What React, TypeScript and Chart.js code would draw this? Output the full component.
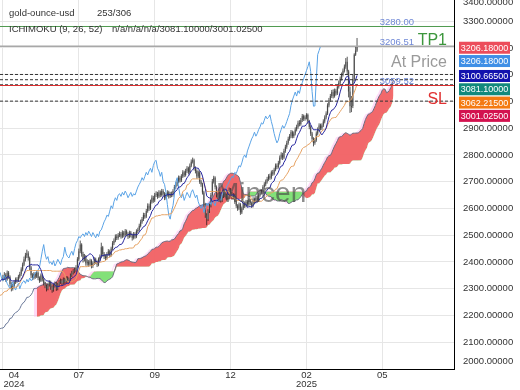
import React, { useEffect, useRef } from "react";
import { Chart, registerables } from "chart.js";
Chart.register(...registerables);

// ---- history bars before the visible window (needed for the Ichimoku look-back) ----
const HIST_CLOSE = [
  2040, 2030, 2045, 2050, 2040, 2060, 2070, 2065, 2080, 2090,
  2100, 2095, 2110, 2120, 2130, 2140, 2150, 2165, 2175, 2160,
  2170, 2185, 2180, 2195, 2210, 2200, 2190, 2205, 2215, 2230,
  2220, 2235, 2250, 2240, 2260, 2270, 2255, 2250, 2265, 2280,
  2290, 2300, 2290, 2310, 2330, 2320, 2310, 2325, 2340, 2360,
  2345, 2330, 2335,
];
const HIST_HIGH = [
  2048, 2046, 2052, 2058, 2056, 2066, 2078, 2076, 2086, 2097,
  2108, 2106, 2116, 2127, 2137, 2147, 2158, 2172, 2184, 2180,
  2177, 2192, 2191, 2201, 2218, 2215, 2206, 2211, 2222, 2237,
  2236, 2242, 2258, 2256, 2267, 2278, 2276, 2262, 2271, 2287,
  2297, 2308, 2306, 2317, 2338, 2336, 2326, 2331, 2347, 2368,
  2366, 2351, 2342,
];
const HIST_LOW = [
  2028, 2022, 2025, 2038, 2032, 2036, 2054, 2058, 2060, 2074,
  2085, 2088, 2090, 2104, 2114, 2124, 2134, 2145, 2160, 2152,
  2153, 2165, 2172, 2175, 2190, 2193, 2183, 2185, 2199, 2210,
  2213, 2215, 2230, 2233, 2235, 2254, 2248, 2243, 2245, 2260,
  2274, 2285, 2283, 2285, 2305, 2313, 2302, 2305, 2320, 2335,
  2338, 2322, 2324,
];

// ---- visible daily bars (253) ----
const CLOSE = [
  2340, 2352, 2335, 2360, 2345, 2318, 2300, 2310, 2325, 2335,
  2330, 2345, 2355, 2372, 2390, 2410, 2425, 2432, 2415, 2380,
  2350, 2340, 2355, 2345, 2360, 2340, 2330, 2350, 2335, 2320,
  2310, 2300, 2315, 2325, 2305, 2295, 2310, 2320, 2300, 2315,
  2325, 2330, 2320, 2335, 2325, 2340, 2330, 2335, 2350, 2360,
  2365, 2370, 2380, 2410, 2440, 2465, 2430, 2410, 2420, 2395,
  2400, 2390, 2405, 2385, 2395, 2410, 2400, 2390, 2410, 2420,
  2455, 2430, 2420, 2415, 2430, 2440, 2425, 2450, 2470, 2480,
  2495, 2490, 2500, 2505, 2495, 2510, 2500, 2515, 2505, 2495,
  2510, 2500, 2490, 2505, 2495, 2515, 2520, 2535, 2550, 2560,
  2575, 2570, 2590, 2610, 2600, 2625, 2640, 2630, 2650, 2655,
  2645, 2660, 2650, 2665, 2655, 2640, 2650, 2660, 2645, 2655,
  2650, 2665, 2680, 2690, 2700, 2715, 2705, 2720, 2735, 2725,
  2740, 2750, 2735, 2760, 2775, 2780, 2750, 2740, 2720, 2735,
  2700, 2690, 2660, 2615, 2575, 2560, 2590, 2610, 2650, 2700,
  2715, 2680, 2650, 2640, 2655, 2630, 2645, 2660, 2650, 2640,
  2660, 2670, 2655, 2640, 2650, 2625, 2610, 2600, 2615, 2585,
  2600, 2620, 2610, 2625, 2615, 2630, 2620, 2610, 2635, 2625,
  2640, 2630, 2650, 2665, 2660, 2680, 2690, 2700, 2710, 2720,
  2715, 2735, 2730, 2745, 2760, 2755, 2770, 2790, 2800, 2790,
  2815, 2830, 2845, 2860, 2870, 2885, 2870, 2880, 2895, 2905,
  2920, 2915, 2930, 2945, 2935, 2940, 2950, 2925, 2905, 2880,
  2860, 2845, 2855, 2880, 2895, 2910, 2900, 2910, 2925, 2940,
  2955, 2985, 3005, 3020, 3035, 3020, 3040, 3030, 3055, 3070,
  3085, 3100, 3115, 3130, 3148, 3112, 3037, 2982, 2983, 3082,
  3175, 3190, 3206,
];
const HIGH = [
  2352, 2362, 2358, 2368, 2366, 2350, 2324, 2318, 2332, 2342,
  2343, 2352, 2363, 2380, 2398, 2420, 2434, 2446, 2440, 2420,
  2386, 2358, 2362, 2361, 2368, 2365, 2346, 2357, 2356, 2340,
  2326, 2316, 2322, 2332, 2330, 2312, 2317, 2327, 2325, 2322,
  2332, 2338, 2336, 2342, 2341, 2347, 2346, 2342, 2357, 2367,
  2373, 2378, 2388, 2418, 2450, 2480, 2470, 2438, 2430, 2426,
  2410, 2407, 2412, 2410, 2402, 2418, 2416, 2406, 2417, 2428,
  2472, 2460, 2437, 2428, 2437, 2448, 2446, 2457, 2478, 2488,
  2503, 2504, 2508, 2514, 2512, 2518, 2516, 2523, 2521, 2511,
  2517, 2516, 2506, 2512, 2511, 2522, 2528, 2543, 2558, 2568,
  2584, 2583, 2598, 2619, 2618, 2633, 2649, 2647, 2658, 2664,
  2662, 2668, 2667, 2673, 2672, 2661, 2658, 2668, 2666, 2662,
  2663, 2672, 2688, 2698, 2708, 2723, 2722, 2728, 2743, 2741,
  2748, 2758, 2756, 2768, 2783, 2790, 2786, 2757, 2746, 2742,
  2740, 2707, 2696, 2666, 2621, 2582, 2597, 2618, 2658, 2710,
  2722, 2720, 2686, 2657, 2662, 2660, 2652, 2668, 2667, 2656,
  2667, 2678, 2676, 2661, 2657, 2655, 2631, 2616, 2622, 2620,
  2607, 2627, 2626, 2632, 2631, 2637, 2636, 2626, 2642, 2641,
  2647, 2646, 2657, 2673, 2672, 2687, 2698, 2708, 2718, 2728,
  2730, 2742, 2744, 2752, 2768, 2768, 2778, 2798, 2810, 2808,
  2823, 2838, 2853, 2868, 2878, 2893, 2891, 2888, 2903, 2913,
  2928, 2930, 2938, 2953, 2951, 2948, 2956, 2955, 2931, 2911,
  2886, 2866, 2863, 2888, 2903, 2918, 2917, 2918, 2933, 2948,
  2963, 2993, 3013, 3028, 3043, 3045, 3048, 3047, 3063, 3078,
  3093, 3108, 3123, 3138, 3162, 3167, 3118, 3055, 3020, 3100,
  3180, 3205, 3237,
];
const LOW = [
  2328, 2333, 2326, 2330, 2337, 2308, 2290, 2293, 2304, 2318,
  2322, 2325, 2338, 2348, 2365, 2384, 2402, 2415, 2405, 2370,
  2340, 2332, 2334, 2337, 2340, 2332, 2322, 2325, 2327, 2312,
  2302, 2290, 2294, 2308, 2296, 2285, 2289, 2304, 2292, 2294,
  2309, 2318, 2312, 2315, 2318, 2320, 2323, 2324, 2330, 2344,
  2353, 2358, 2363, 2375, 2404, 2433, 2420, 2398, 2402, 2386,
  2386, 2382, 2384, 2376, 2378, 2389, 2392, 2381, 2384, 2404,
  2414, 2420, 2411, 2406, 2409, 2424, 2417, 2420, 2444, 2463,
  2474, 2482, 2483, 2493, 2487, 2489, 2492, 2494, 2497, 2486,
  2489, 2492, 2480, 2484, 2487, 2489, 2508, 2514, 2529, 2543,
  2553, 2562, 2564, 2584, 2591, 2594, 2618, 2621, 2624, 2643,
  2636, 2639, 2642, 2644, 2647, 2631, 2633, 2644, 2637, 2639,
  2642, 2644, 2659, 2673, 2683, 2694, 2697, 2699, 2714, 2717,
  2719, 2733, 2727, 2730, 2754, 2768, 2742, 2731, 2711, 2714,
  2692, 2681, 2652, 2606, 2565, 2537, 2553, 2583, 2604, 2644,
  2693, 2671, 2641, 2631, 2634, 2622, 2624, 2639, 2642, 2632,
  2634, 2653, 2647, 2632, 2633, 2617, 2602, 2591, 2594, 2576,
  2579, 2594, 2602, 2604, 2607, 2609, 2612, 2602, 2604, 2617,
  2619, 2622, 2624, 2644, 2652, 2654, 2673, 2683, 2693, 2703,
  2707, 2709, 2722, 2724, 2739, 2747, 2749, 2764, 2783, 2781,
  2784, 2808, 2823, 2838, 2853, 2863, 2862, 2863, 2873, 2888,
  2898, 2907, 2909, 2923, 2927, 2928, 2933, 2917, 2896, 2871,
  2850, 2832, 2838, 2849, 2873, 2888, 2892, 2893, 2904, 2918,
  2933, 2949, 2978, 2998, 3013, 3011, 3014, 3022, 3024, 3048,
  3063, 3078, 3093, 3108, 3122, 3100, 3015, 2957, 2960, 2975,
  3075, 3170, 3185,
];

const X_TICKS = [0, 54, 108, 162, 216, 270];
const X_LABELS = [["04", "2024"], ["07"], ["09"], ["12"], ["02", "2025"], ["05"]];
const Y_TICKS = [2000, 2100, 2200, 2300, 2400, 2500, 2600, 2700, 2800, 2900, 3000, 3100, 3200, 3300, 3400];

const TENKAN_N = 9;
const KIJUN_N = 26;
const SPANB_N = 52;
const SHIFT = 26;

// levels
const TP_VALUE = 3280.0;
const PRICE_VALUE = 3206.51;
const SL_VALUE = 3059.52;
const DASHED_VALUES = [3100.665, 3081.1, 3062.215, 3001.025];

// right-side value boxes
const BOX_VALUES = [3206.18, 3206.18, 3100.665, 3081.1, 3062.215, 3001.025];
const BOX_COLORS = ["#ec4d5b", "#3f8fe6", "#1212ae", "#12897c", "#f47a12", "#d3124f"];

const LEGEND_NAME = "gold-ounce-usd";
const LEGEND_COUNT = "253/306";
const LEGEND_IND = "ICHIMOKU (9, 26, 52)";
const LEGEND_VALS = "n/a/n/a/n/a/3081.10000/3001.02500";
const WATERMARK = "Mincen";

const FONT = '"Liberation Sans", Arial, sans-serif';

export default function App() {
  const ref = useRef<HTMLCanvasElement | null>(null);

  useEffect(() => {
    const canvas = ref.current;
    if (!canvas) return;

    const allH = [...HIST_HIGH, ...HIGH];
    const allL = [...HIST_LOW, ...LOW];
    const allC = [...HIST_CLOSE, ...CLOSE];
    const OFF = HIST_CLOSE.length;
    const mid = (i: number, n: number) => {
      if (i < n - 1) return null;
      let hi = -Infinity, lo = Infinity;
      for (let k = i - n + 1; k <= i; k++) {
        if (allH[k] > hi) hi = allH[k];
        if (allL[k] < lo) lo = allL[k];
      }
      return (hi + lo) / 2;
    };
    const tenkan: any[] = [], kijun: any[] = [], chikou: any[] = [];
    const lead: any[] = [], spanA: any[] = [], spanB: any[] = [], shadowA: any[] = [], shadowB: any[] = [];
    for (let i = 0; i < allC.length; i++) {
      const t = mid(i, TENKAN_N), k = mid(i, KIJUN_N), b = mid(i, SPANB_N);
      const x = i - OFF;
      if (t !== null) tenkan.push({ x, y: t });
      if (k !== null) kijun.push({ x, y: k });
      chikou.push({ x: x - SHIFT, y: allC[i] });
      if (t !== null && k !== null) {
        const a = (t + k) / 2;
        if (b === null || mid(i - 1, SPANB_N) === null) lead.push({ x: x + SHIFT, y: a });
        if (b !== null) {
          spanA.push({ x: x + SHIFT, y: a });
          spanB.push({ x: x + SHIFT, y: b });
          shadowA.push({ x: x + SHIFT - 2, y: a });
          shadowB.push({ x: x + SHIFT - 2, y: b });
        }
      }
    }

    const line = (data: any[], color: string, extra: any = {}) => ({
      data, borderColor: color, borderWidth: 1, pointRadius: 0, tension: 0, fill: false, ...extra,
    });

    const drawCandles = (chart: any) => {
      const { ctx, chartArea: ca } = chart;
      const xs = chart.scales.x, ys = chart.scales.y;
      ctx.save();
      ctx.beginPath();
      ctx.rect(ca.left, ca.top, ca.right - ca.left, ca.bottom - ca.top);
      ctx.clip();
      for (let v = 0; v < CLOSE.length; v++) {
        const o = v === 0 ? HIST_CLOSE[HIST_CLOSE.length - 1] : CLOSE[v - 1];
        const c = CLOSE[v];
        const x = xs.getPixelForValue(v);
        const top = ys.getPixelForValue(Math.max(o, c));
        const bot = ys.getPixelForValue(Math.min(o, c));
        ctx.fillStyle = "#a8a8a8";
        ctx.fillRect(x - 0.75, top, 1.5, Math.max(1, bot - top));
        ctx.strokeStyle = "#111";
        ctx.lineWidth = 0.7;
        ctx.beginPath();
        ctx.moveTo(x, ys.getPixelForValue(HIGH[v]));
        ctx.lineTo(x, ys.getPixelForValue(LOW[v]));
        ctx.stroke();
      }
      ctx.restore();
    };

    const overlay = {
      id: "overlay",
      afterDatasetDraw(chart: any, args: any) {
        if (args.index === 3) drawCandles(chart);
      },
      afterDatasetsDraw(chart: any) {
        const { ctx, chartArea: ca } = chart;
        const ys = chart.scales.y;
        ctx.save();
        ctx.beginPath();
        ctx.rect(ca.left, ca.top, ca.right - ca.left, ca.bottom - ca.top);
        ctx.clip();
        // watermark
        ctx.font = `28px ${FONT}`;
        ctx.fillStyle = "rgba(70,70,70,0.62)";
        ctx.textAlign = "left";
        ctx.textBaseline = "alphabetic";
        ctx.fillText(WATERMARK, 216, 202);

        const hline = (v: number, color: string, w: number, dash: number[]) => {
          const y = ys.getPixelForValue(v);
          ctx.beginPath();
          ctx.setLineDash(dash);
          ctx.strokeStyle = color;
          ctx.lineWidth = w;
          ctx.moveTo(ca.left, y);
          ctx.lineTo(ca.right, y);
          ctx.stroke();
          ctx.setLineDash([]);
          return y;
        };
        DASHED_VALUES.forEach((v) => hline(v, "#333", 1, [3, 2]));
        const yTp = hline(TP_VALUE, "#4f9a4f", 1, []);
        const yPr = hline(PRICE_VALUE, "#a8a8a8", 1.5, []);
        const ySl = hline(SL_VALUE, "#dd2f2f", 1.2, []);

        ctx.textAlign = "right";
        ctx.textBaseline = "alphabetic";
        ctx.font = `9.5px ${FONT}`;
        ctx.fillStyle = "#6f88d6";
        ctx.fillText(TP_VALUE.toFixed(2), 414, yTp - 1.5);
        ctx.fillText(PRICE_VALUE.toFixed(2), 414, yPr - 1.5);
        ctx.fillText(SL_VALUE.toFixed(2), 414, ySl - 1.5);
        ctx.font = `16px ${FONT}`;
        ctx.fillStyle = "#3c963c";
        ctx.fillText("TP1", 447, yTp + 19);
        ctx.fillStyle = "#9a9a9a";
        ctx.fillText("At Price", 447, yPr + 21);
        ctx.fillStyle = "#e03030";
        ctx.fillText("SL", 447, ySl + 19);
        ctx.restore();
      },
      afterDraw(chart: any) {
        const { ctx, chartArea: ca } = chart;
        const xs = chart.scales.x, ys = chart.scales.y;
        ctx.save();
        ctx.font = `9.5px ${FONT}`;
        ctx.fillStyle = "#333";
        ctx.textBaseline = "alphabetic";
        ctx.textAlign = "left";
        ctx.fillText(LEGEND_NAME, 9, 16);
        ctx.fillText(LEGEND_COUNT, 97, 16);
        ctx.fillText(LEGEND_IND, 9, 31.5);
        ctx.fillText(LEGEND_VALS, 112, 31.5);

        // y labels
        ctx.textBaseline = "middle";
        Y_TICKS.forEach((v) => {
          const y = Math.min(Math.max(ys.getPixelForValue(v), 2), ca.bottom - 8);
          ctx.fillText(v.toFixed(5), ca.right + 9, y);
        });
        // x labels
        ctx.textAlign = "center";
        X_TICKS.forEach((v, i) => {
          const x = Math.max(xs.getPixelForValue(v), 14);
          X_LABELS[i].forEach((s, r) => ctx.fillText(s, x, ca.bottom + 6.5 + r * 9));
        });
        // value boxes
        let prev = -Infinity;
        ctx.font = `9px ${FONT}`;
        BOX_VALUES.forEach((v, i) => {
          const y = Math.max(ys.getPixelForValue(v) + 1.5, prev + 13.3);
          prev = y;
          ctx.fillStyle = BOX_COLORS[i];
          ctx.fillRect(ca.right + 5, y - 6, 51, 12);
          ctx.fillStyle = "#fff";
          ctx.textAlign = "center";
          ctx.fillText(v.toFixed(5), ca.right + 30.5, y + 0.5);
        });
        ctx.restore();
      },
    };

    const chart = new Chart(canvas, {
      type: "line",
      data: {
        datasets: [
          line(tenkan, "#25259e") as any,
          line(kijun, "#e6a263"),
          line(chikou, "#5aa3e6"),
          line(spanA, "#6c6c7e", {
            fill: { target: 4, above: "rgba(241,92,92,0.9)", below: "rgba(118,226,108,0.9)" },
          }),
          line(spanB, "rgba(0,0,0,0)", { borderWidth: 0 }),
          line(lead, "#6a7898"),
          line(shadowA, "rgba(0,0,0,0)", {
            borderWidth: 0,
            fill: { target: 7, above: "rgba(255,190,240,0.55)", below: "rgba(255,190,240,0.55)" },
          }),
          line(shadowB, "rgba(0,0,0,0)", { borderWidth: 0 }),
        ],
      },
      options: {
        animation: false,
        responsive: false,
        events: [],
        layout: { padding: 0 },
        plugins: { legend: { display: false }, tooltip: { enabled: false } },
        scales: {
          x: {
            type: "linear",
            min: -2.1,
            max: 321,
            ticks: { display: false },
            grid: { color: "#e6e6e6", drawTicks: false },
            border: { display: true, color: "#000", width: 1 },
            afterBuildTicks: (s: any) => { s.ticks = X_TICKS.map((value) => ({ value })); },
            afterFit: (s: any) => { s.height = 21; s.paddingLeft = 0; s.paddingRight = 0; },
          },
          y: {
            type: "linear",
            position: "right",
            min: 2000,
            max: 3379,
            ticks: { display: false },
            grid: { color: "#e6e6e6", drawTicks: false },
            border: { display: true, color: "#000", width: 1 },
            afterBuildTicks: (s: any) => {
              s.ticks = Y_TICKS.filter((v) => v <= 3379).map((value) => ({ value }));
            },
            afterFit: (s: any) => { s.width = 66; s.paddingTop = 0; s.paddingBottom = 0; },
          },
        },
      } as any,
      plugins: [overlay],
    });
    return () => chart.destroy();
  }, []);

  return (
    <div style={{ position: "fixed", left: 0, top: 0, width: 520, height: 390, background: "#fff" }}>
      <canvas ref={ref} width={520} height={390} style={{ display: "block" }} />
    </div>
  );
}
